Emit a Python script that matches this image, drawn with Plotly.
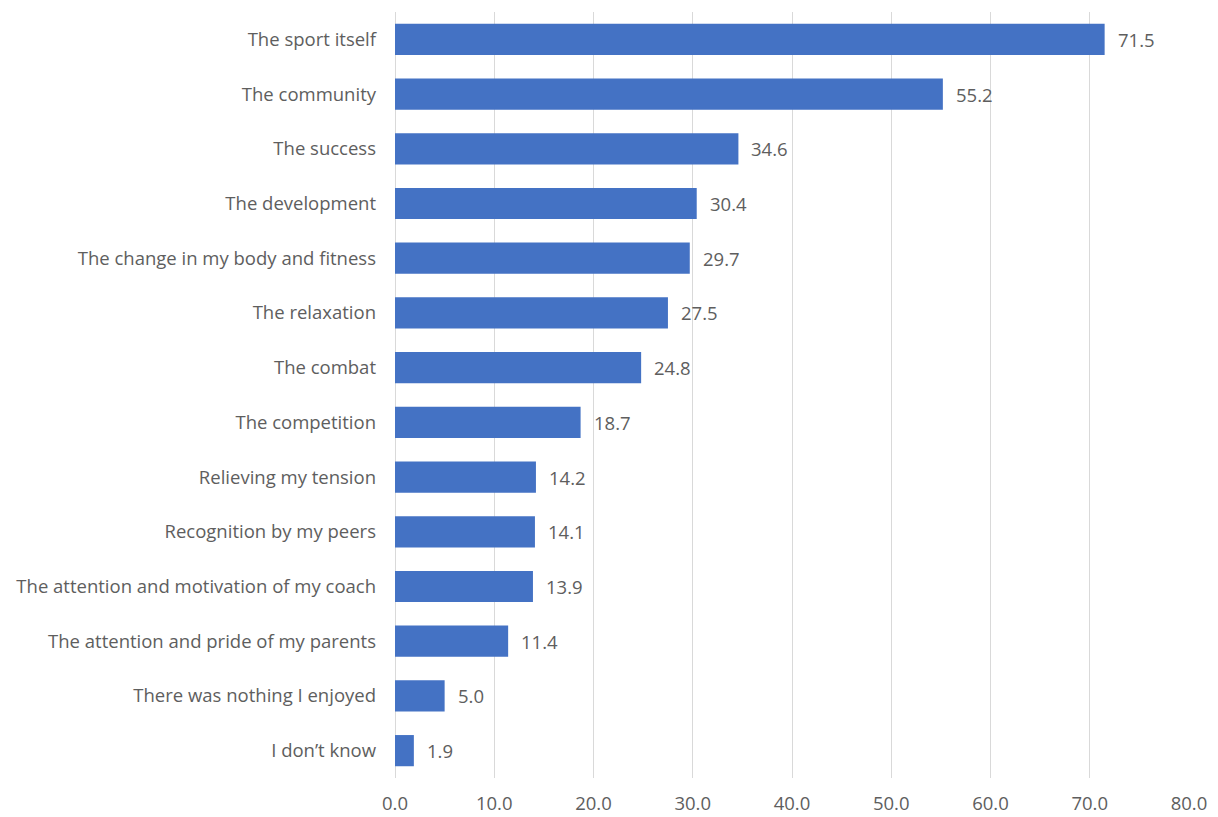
import plotly.graph_objects as go

categories = [
    "The sport itself",
    "The community",
    "The success",
    "The development",
    "The change in my body and fitness",
    "The relaxation",
    "The combat",
    "The competition",
    "Relieving my tension",
    "Recognition by my peers",
    "The attention and motivation of my coach",
    "The attention and pride of my parents",
    "There was nothing I enjoyed",
    "I don\u2019t know",
]
values = [71.5, 55.2, 34.6, 30.4, 29.7, 27.5, 24.8, 18.7, 14.2, 14.1, 13.9, 11.4, 5.0, 1.9]
x_ticks = [0, 10, 20, 30, 40, 50, 60, 70, 80]

text_color = "#5E5E5E"
font_family = "'Open Sans', sans-serif"
font_size = 18.5

fig = go.Figure(
    go.Bar(
        x=values,
        y=categories,
        orientation="h",
        marker=dict(color="#4472C4", line=dict(width=0)),
        hoverinfo="x+y",
    )
)

# value labels placed just to the right of each bar end
for cat, val in zip(categories, values):
    fig.add_annotation(
        x=val,
        y=cat,
        text=f"{val:.1f}",
        showarrow=False,
        xanchor="left",
        yanchor="middle",
        xshift=11,
        font=dict(color=text_color, size=font_size, family=font_family),
    )

fig.update_layout(
    width=1218,
    height=817,
    margin=dict(l=395, r=29, t=12, b=39),
    paper_bgcolor="white",
    plot_bgcolor="white",
    bargap=0.43,
    showlegend=False,
    font=dict(family=font_family, color=text_color, size=font_size),
)
fig.update_xaxes(
    range=[0, 80],
    tickvals=x_ticks,
    ticktext=[f"{t:.1f}" for t in x_ticks],
    showgrid=True,
    gridcolor="#D9D9D9",
    gridwidth=1,
    zeroline=True,
    zerolinecolor="#D9D9D9",
    zerolinewidth=1,
    showline=False,
    ticks="",
    automargin=False,
    ticklabelstandoff=12,
    tickfont=dict(size=font_size, color=text_color),
)
fig.update_yaxes(
    categoryorder="array",
    categoryarray=categories[::-1],
    autorange=False,
    range=[-0.5, len(categories) - 0.5],
    showgrid=False,
    showline=False,
    ticks="",
    automargin=False,
    ticklabelstandoff=18,
    tickfont=dict(size=font_size, color=text_color),
)

fig.write_html("out.html")
